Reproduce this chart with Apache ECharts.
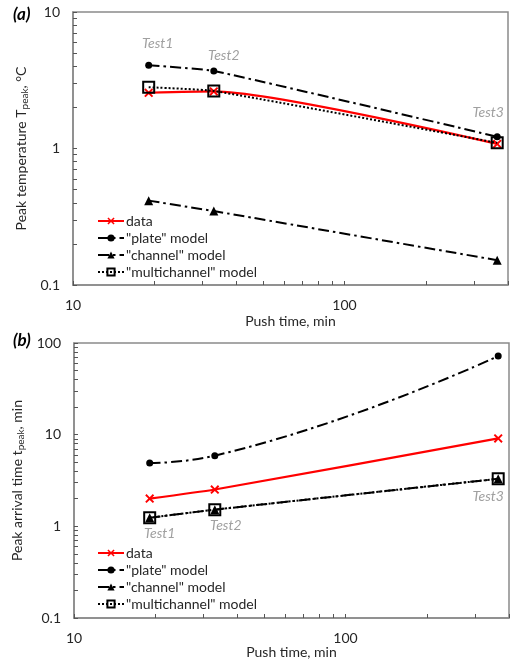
<!DOCTYPE html>
<html>
<head>
<meta charset="utf-8">
<script src="https://cdn.jsdelivr.net/npm/echarts@6/dist/echarts.min.js"></script>
<style>
  html, body { margin: 0; padding: 0; background: #fff; }
  #chart { width: 516px; height: 664px; }
</style>
</head>
<body>
<div id="chart"></div>
<script>
// Push times of the three tests (min)
const pushTime = [19, 33, 365];
const testNames = ['Test1', 'Test2', 'Test3'];

// (a) peak temperature, °C
const tempData        = [2.56, 2.62, 1.08];
const tempPlate       = [4.07, 3.70, 1.22];
const tempChannel     = [0.415, 0.348, 0.152];
const tempMulti       = [2.81, 2.64, 1.10];

// (b) peak arrival time, min
const arrData         = [2.01, 2.52, 9.1];
const arrPlate        = [4.9, 5.9, 72];
const arrChannel      = [1.24, 1.52, 3.3];
const arrMulti        = [1.24, 1.52, 3.3];

// Axis ticks and labels
const xTickValues  = [10, 20, 30, 40, 50, 60, 70, 80, 90, 100, 200, 300, 400];
const xLabelValues = [10, 100];
const yTickValuesA = [0.1, 0.2, 0.3, 0.4, 0.5, 0.6, 0.7, 0.8, 0.9, 1, 2, 3, 4, 5, 6, 7, 8, 9, 10];
const yLabelValuesA = [0.1, 1, 10];
const yTickValuesB = [0.1, 0.2, 0.3, 0.4, 0.5, 0.6, 0.7, 0.8, 0.9, 1, 2, 3, 4, 5, 6, 7, 8, 9,
                      10, 20, 30, 40, 50, 60, 70, 80, 90, 100];
const yLabelValuesB = [0.1, 1, 10, 100];

const seriesNames = ['data', '"plate" model', '"channel" model', '"multichannel" model'];

const FONT = 'Lato, "Open Sans", sans-serif';
const AXIS_GREY = '#8a8a8a';
const TEXT = '#262626';
const DASH_DOT = [11, 4, 2.5, 4];
const DOTS = [2, 2];

const crossPath = 'path://M0,1.5 L1.5,0 L5,3.5 L8.5,0 L10,1.5 L6.5,5 L10,8.5 L8.5,10 L5,6.5 L1.5,10 L0,8.5 L3.5,5 Z';

function pts(values) {
  return pushTime.map((x, i) => [x, values[i]]);
}

// data points carrying a test label at a given offset
function labelled(values, offsets) {
  return pushTime.map((x, i) => ({
    value: [x, values[i]],
    label: {
      show: true,
      position: 'inside',
      offset: offsets[i],
      formatter: () => testNames[i],
      color: '#a0a0a0',
      fontStyle: 'italic',
      fontSize: 14,
      fontFamily: FONT
    }
  }));
}

function xAxis(gridIndex, nameGap) {
  return {
    type: 'log', logBase: 10, gridIndex,
    min: 10, max: 400,
    name: 'Push time, min', nameLocation: 'middle', nameGap,
    nameTextStyle: { color: TEXT, fontSize: 14, fontFamily: FONT },
    axisLine: { show: true, lineStyle: { color: AXIS_GREY, width: 1.5 } },
    axisTick: { show: true, inside: true, length: 4, customValues: xTickValues,
                lineStyle: { color: '#555', width: 1 } },
    axisLabel: { show: true, customValues: xLabelValues, margin: 13,
                 color: TEXT, fontSize: 14, fontFamily: FONT,
                 formatter: v => String(+v.toPrecision(3)) },
    splitLine: { show: false },
    minorTick: { show: false }
  };
}

function yAxis(gridIndex, max, ticks, labels, name) {
  return {
    type: 'log', logBase: 10, gridIndex,
    min: 0.1, max,
    name, nameLocation: 'middle', nameGap: 42,
    nameTextStyle: {
      fontFamily: FONT,
      rich: {
        a: { color: TEXT, fontSize: 14, fontFamily: FONT, lineHeight: 18 },
        s: { color: TEXT, fontSize: 10, fontFamily: FONT, lineHeight: 18, padding: [7, 0, 0, 0] }
      }
    },
    axisLine: { show: true, lineStyle: { color: AXIS_GREY, width: 1.5 } },
    axisTick: { show: true, inside: true, length: 4, customValues: ticks,
                lineStyle: { color: '#555', width: 1 } },
    axisLabel: { show: true, customValues: labels, margin: 13,
                 color: TEXT, fontSize: 14, fontFamily: FONT,
                 formatter: v => String(+v.toPrecision(3)) },
    splitLine: { show: false },
    minorTick: { show: false }
  };
}

// smoothing per series: [data, plate, channel, multichannel]
function seriesSet(gi, smooth, dataV, plateV, channelV, multiV, plateData, channelData) {
  const base = { type: 'line', xAxisIndex: gi, yAxisIndex: gi, animation: false };
  return [
    Object.assign({}, base, {
      name: seriesNames[1], data: plateData || pts(plateV), z: 3, smooth: smooth[1],
      symbol: 'circle', symbolSize: 7,
      itemStyle: { color: '#000' },
      lineStyle: { color: '#000', width: 2, type: DASH_DOT }
    }),
    Object.assign({}, base, {
      name: seriesNames[2], data: channelData || pts(channelV), z: 3, smooth: smooth[2],
      symbol: 'triangle', symbolSize: 9,
      itemStyle: { color: '#000' },
      lineStyle: { color: '#000', width: 2, type: DASH_DOT }
    }),
    Object.assign({}, base, {
      name: seriesNames[3], data: pts(multiV), z: 4, smooth: smooth[3],
      symbol: 'rect', symbolSize: 11,
      itemStyle: { color: 'rgba(0,0,0,0)', borderColor: '#000', borderWidth: 2 },
      lineStyle: { color: '#000', width: 2, type: DOTS }
    }),
    Object.assign({}, base, {
      name: seriesNames[0], data: pts(dataV), z: 2, smooth: smooth[0],
      symbol: crossPath, symbolSize: 9,
      itemStyle: { color: '#ff0000' },
      lineStyle: { color: '#ff0000', width: 2.2 }
    })
  ];
}

function legend(top) {
  return {
    orient: 'vertical', left: 92, top,
    itemWidth: 26, itemHeight: 9, itemGap: 3,
    data: seriesNames,
    textStyle: { color: TEXT, fontSize: 14, fontFamily: FONT, padding: [0, 0, 0, -3] },
    selectedMode: false
  };
}

const chart = echarts.init(document.getElementById('chart'), null, { renderer: 'canvas' });

chart.setOption({
  backgroundColor: '#fff',
  animation: false,
  textStyle: { fontFamily: FONT },
  grid: [
    { left: 73, top: 12, width: 435, height: 273, show: true, borderColor: AXIS_GREY, borderWidth: 1.5 },
    { left: 74, top: 343, width: 435, height: 275, show: true, borderColor: AXIS_GREY, borderWidth: 1.5 }
  ],
  xAxis: [xAxis(0, 29), xAxis(1, 27)],
  yAxis: [
    yAxis(0, 10, yTickValuesA, yLabelValuesA, '{a|Peak temperature T}{s|peak}{a|, °C}'),
    yAxis(1, 100, yTickValuesB, yLabelValuesB, '{a|Peak arrival time t}{s|peak}{a|, min}')
  ],
  legend: [legend(209), legend(541)],
  graphic: [
    { type: 'text', left: 13, top: 6, style: { text: '(a)', fontSize: 17, fontWeight: 'bold', fontStyle: 'italic', fontFamily: FONT, fill: '#000' } },
    { type: 'text', left: 13, top: 332, style: { text: '(b)', fontSize: 17, fontWeight: 'bold', fontStyle: 'italic', fontFamily: FONT, fill: '#000' } }
  ],
  series: [
    ...seriesSet(0, [0.2, 0.15, 0.1, 0.15], tempData, tempPlate, tempChannel, tempMulti,
                 labelled(tempPlate, [[9, -22], [10, -15], [-9, -24]]), null),
    ...seriesSet(1, [0.2, 0.5, 0.2, 0.2], arrData, arrPlate, arrChannel, arrMulti,
                 null, labelled(arrChannel, [[10, 16], [11, 16], [-10, 18]]))
  ]
});
</script>
</body>
</html>
